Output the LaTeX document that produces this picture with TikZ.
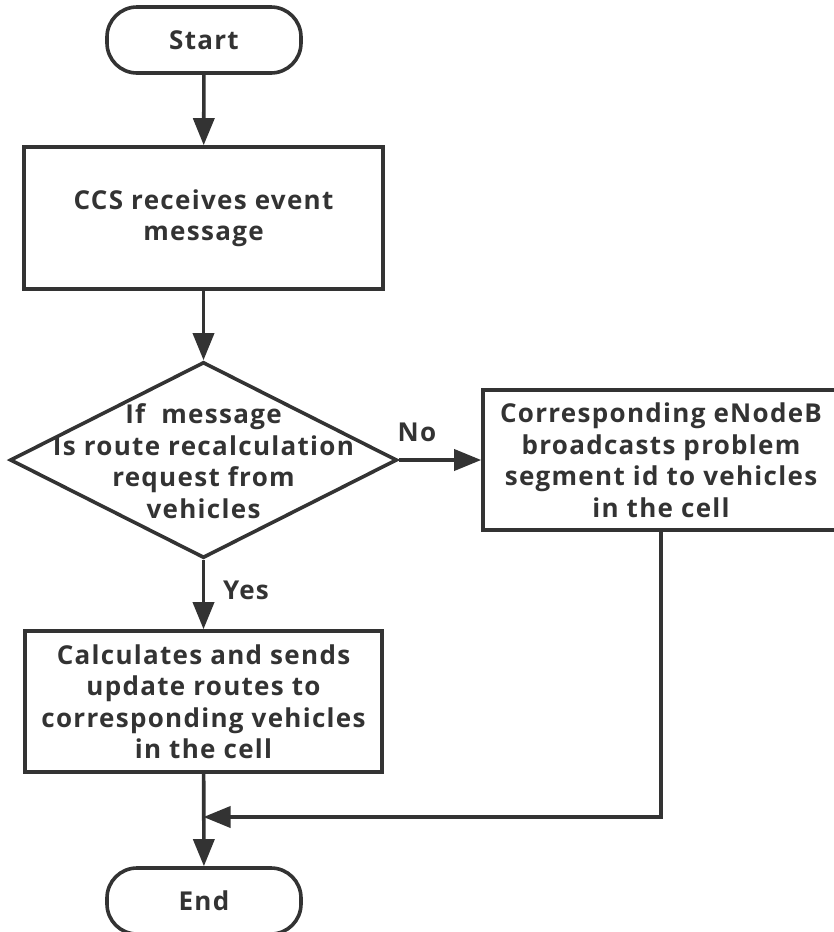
\documentclass[tikz,border=0pt]{standalone}
\usepackage{fontspec}
\setmainfont{Open Sans}[LetterSpace=5]
\usetikzlibrary{arrows.meta,shapes.geometric}
\definecolor{ink}{HTML}{333333}

\begin{document}
\begin{tikzpicture}[x=1pt,y=1pt,
  every node/.append style={font=\fontsize{26}{31.5}\selectfont\bfseries, text=ink},
  flow/.style={draw=ink, line width=3.6pt, -{Triangle[length=27pt,width=21pt]}},
  term/.style={draw=ink, line width=3.6pt, rounded corners=30pt,
    minimum width=194pt, minimum height=66pt, inner sep=0pt},
  stepbox/.style={draw=ink, line width=3.6pt, inner sep=0pt, align=center},
  decision/.style={draw=ink, line width=3.6pt, shape=diamond, inner sep=0pt,
    minimum width=387pt, minimum height=196pt},
  lab/.style={inner sep=0pt}
]
\useasboundingbox (0,0) rectangle (833,-932);
\fill[white] (0,0) rectangle (833,-932);

% terminals, process boxes and the decision
\node[term] (start) at (204,-40) {Start};
\node[stepbox, minimum width=359pt, minimum height=142pt] (recv) at (203.5,-218)
  {CCS receives event\\message};
\node[decision] (dec) at (203.5,-460) {};
\node[align=center, inner sep=0pt] (dectext) at (203.5,-461)
  {If\ \ message\\Is route recalculation\\request from\\vehicles};
\node[stepbox, minimum width=356pt, minimum height=140pt] (bcast) at (661,-460)
  {Corresponding eNodeB\\broadcasts problem\\segment id to vehicles\\in the cell};
\node[stepbox, minimum width=357pt, minimum height=141pt] (calc) at (203.5,-701.5)
  {Calculates and sends\\update routes to\\corresponding vehicles\\in the cell};
\node[term] (end) at (204,-901) {End};

% branch labels
\node[lab] (no) at (417,-432) {No};
\node[lab] (yes) at (246,-590) {Yes};

% connectors
\coordinate (merge) at (203.5,-817);
\draw[flow] (start) -- (recv);
\draw[flow] (recv) -- (dec);
\draw[flow] (dec.east) -- (bcast.west);
\draw[flow] (dec.south) -- (calc.north);
\draw[flow] (calc) -- (end);
\draw[flow] (bcast.south) |- (merge);
\end{tikzpicture}
\end{document}
